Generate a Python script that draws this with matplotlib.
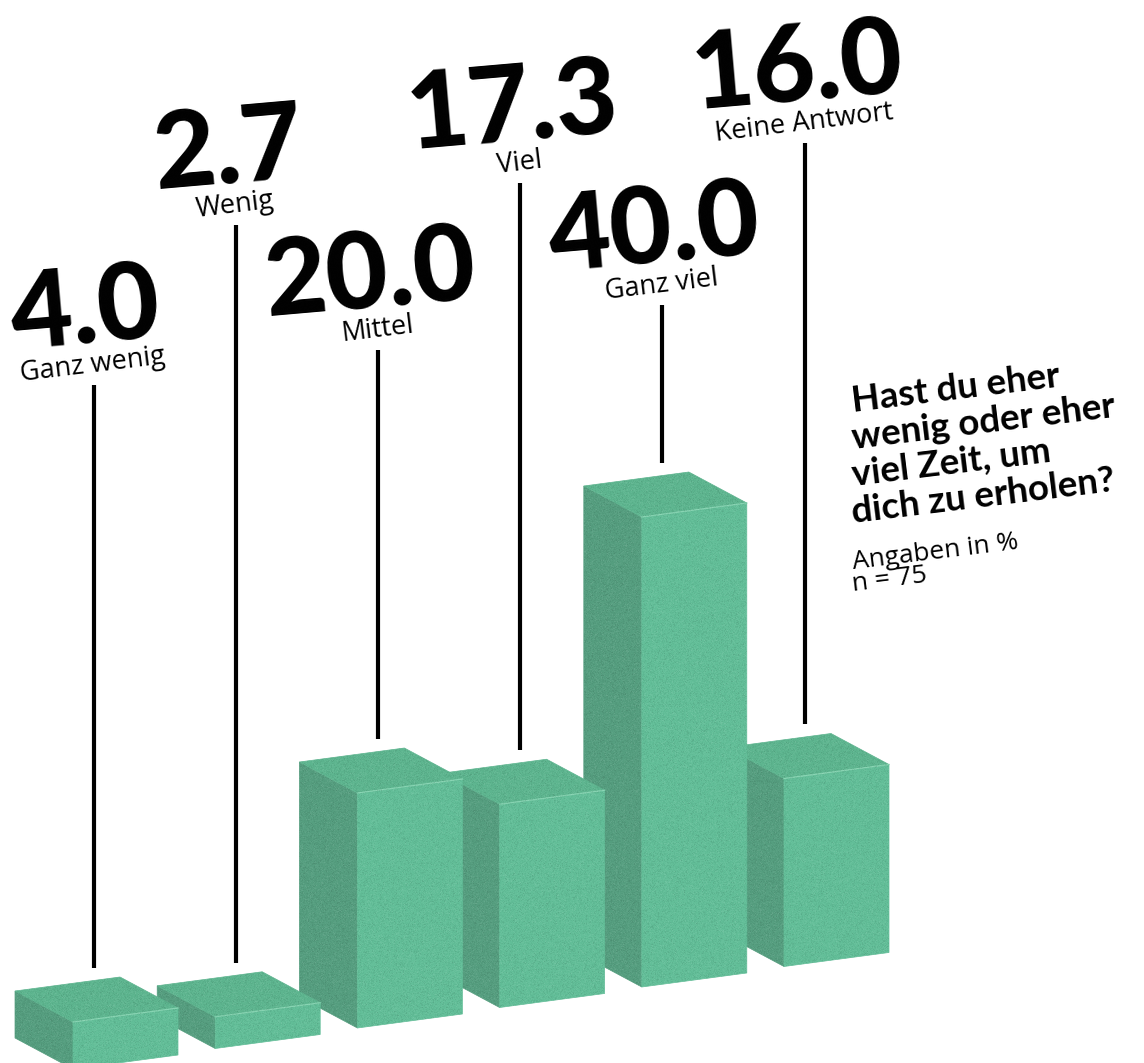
import numpy as np
import matplotlib
matplotlib.use("Agg")
import matplotlib.pyplot as plt
from matplotlib.patches import Polygon

# Survey answers (percent of respondents)
categories = ["Ganz wenig", "Wenig", "Mittel", "Viel", "Ganz viel", "Keine Antwort"]
values = [4.0, 2.7, 20.0, 17.3, 40.0, 16.0]

title_lines = ["Hast du eher", "wenig oder eher", "viel Zeit, um", "dich zu erholen?"]
note_lines = ["Angaben in %", "n = 75"]

# ---- canvas in pixel-like units -------------------------------------------
W, H = 1144, 1063
fig = plt.figure(figsize=(W / 100, H / 100), dpi=100)
ax = fig.add_axes([0, 0, 1, 1])
ax.set_xlim(0, W)
ax.set_ylim(H, 0)
ax.axis("off")

# ---- oblique projection of the bar row -------------------------------------
origin = np.array([73.0, 1069.0])   # front-bottom-left corner of the first bar
step = np.array([142.2, -20.5])     # offset from one bar to the next
face = np.array([105.0, -14.0])     # front face width vector
depth = np.array([-58.0, -31.0])    # receding depth vector
unit = 11.75                        # vertical pixels per percentage point

col_front = "#62be98"
col_side = "#559e7f"
col_top = "#5db58f"
col_edge = "#86d4b2"

# leader-line tops (layout) for each label stack
line_tops = [385, 225, 350, 183, 305, 143]

num_font = dict(family=["Lato", "DejaVu Sans"], fontweight="black", fontsize=77)
cat_font = dict(family=["Open Sans", "DejaVu Sans"], fontweight="medium", fontsize=19.5)

# fine print grain laid over the bars
rng = np.random.default_rng(7)
grain = rng.normal(0.0, 1.0, (H, W))
grain_rgba = np.zeros((H, W, 4))
grain_rgba[..., :3] = (grain > 0)[..., None] * 1.0
grain_rgba[..., 3] = np.clip(np.abs(grain) * 0.035, 0, 0.10)


def bar_faces(i, v):
    b = origin + i * step                 # front bottom-left
    t = b + np.array([0.0, -v * unit])    # front top-left
    side = [b, b + depth, t + depth, t]
    front = [b, b + face, t + face, t]
    top = [t, t + face, t + face + depth, t + depth]
    outline = [b, b + face, t + face, t + face + depth, t + depth, b + depth]
    return np.array(side), np.array(front), np.array(top), np.array(outline), t


# draw right to left so nearer bars overlap the ones behind them
for i in reversed(range(len(values))):
    side, front, top, outline, t = bar_faces(i, values[i])
    ax.add_patch(Polygon(side, closed=True, fc=col_side, ec=col_side, lw=0.5, zorder=1))
    ax.add_patch(Polygon(front, closed=True, fc=col_front, ec=col_front, lw=0.5, zorder=1))
    ax.add_patch(Polygon(top, closed=True, fc=col_top, ec=col_top, lw=0.5, zorder=1))
    ax.plot([t[0], t[0] + face[0]], [t[1], t[1] + face[1]], color=col_edge, lw=0.9, zorder=1)
    clip = Polygon(outline, closed=True, transform=ax.transData)
    img = ax.imshow(grain_rgba, extent=(0, W, H, 0), interpolation="nearest", zorder=1)
    img.set_clip_path(clip)

ax.set_xlim(0, W)
ax.set_ylim(H, 0)

# leader lines and value/category labels
for i, (cat, v) in enumerate(zip(categories, values)):
    _, _, _, _, t = bar_faces(i, v)
    anchor = t + 0.5 * face + 0.55 * depth
    lx = anchor[0]
    ax.plot([lx, lx], [line_tops[i], anchor[1] - 30], color="black", lw=3.0,
            solid_capstyle="butt", zorder=2)
    cat_y = line_tops[i] - 13
    ax.text(lx, cat_y, cat, ha="center", va="baseline", rotation=7,
            rotation_mode="anchor", color="black", zorder=3, **cat_font)
    ax.text(lx - 5, cat_y - 30, f"{v:.1f}", ha="center", va="baseline", rotation=5,
            rotation_mode="anchor", color="black", zorder=3, **num_font)

# question block
title_base = [412, 449, 486, 523]
for line, y in zip(title_lines, title_base):
    ax.text(853, y, line, ha="left", va="baseline", rotation=7, rotation_mode="anchor",
            family=["Lato", "DejaVu Sans"], fontweight="bold", fontsize=26.5, color="black")
note_base = [569, 591]
for line, y in zip(note_lines, note_base):
    ax.text(853, y, line, ha="left", va="baseline", rotation=7, rotation_mode="anchor",
            family=["Open Sans", "DejaVu Sans"], fontsize=19, color="black")

fig.savefig("out.png", dpi=100, facecolor="white")
